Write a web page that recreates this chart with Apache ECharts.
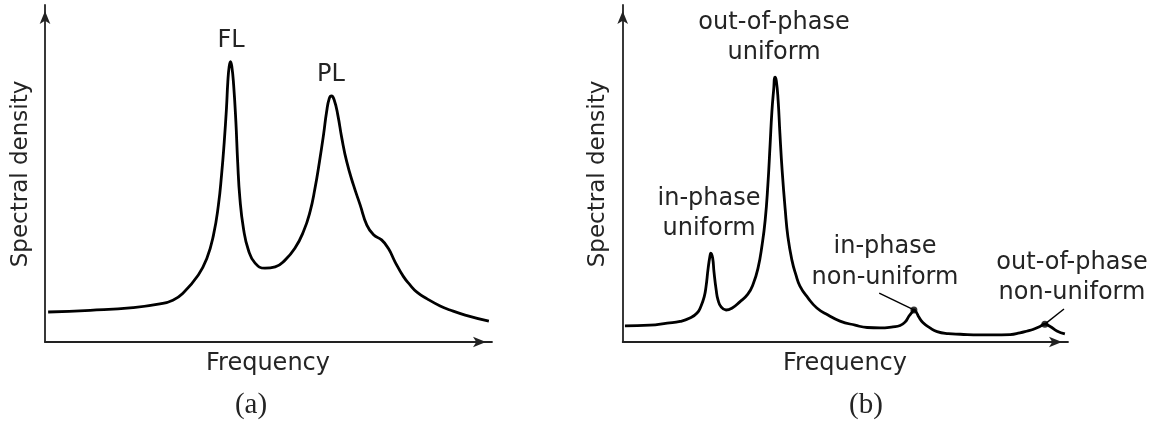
<!DOCTYPE html>
<html>
<head>
<meta charset="utf-8">
<script src="https://cdn.jsdelivr.net/npm/echarts@6/dist/echarts.min.js"></script>
<style>
  html, body { margin: 0; padding: 0; background: #fff; }
  #chart { width: 1161px; height: 433px; }
</style>
</head>
<body>
<div id="chart"></div>
<script>
// Panel (a): spectrum with FL and PL peaks (frequency and density in arbitrary units, 0-100)
const freqA = [0.7, 10.1, 19.7, 25.7, 28.6, 30.8, 34.3, 36.2, 37.7, 38.8, 39.5, 40.1, 40.6, 40.9, 41.2, 41.5, 41.8, 42.2, 42.7, 43.1, 43.6, 44.4, 45.5, 47.0, 49.2, 51.5, 53.7, 55.9, 57.8, 59.3, 60.4, 61.4, 62.3, 63.0, 63.6, 64.1, 64.7, 65.5, 66.4, 67.5, 69.0, 70.5, 72.0, 73.5, 75.3, 76.8, 78.3, 80.2, 81.7, 83.2, 85.5, 88.4, 90.6, 94.0, 99.3];
const densityA = [8.9, 9.4, 10.2, 11.3, 12.4, 14.4, 19.9, 24.8, 31.8, 40.7, 49.6, 59.4, 69.4, 77.2, 81.7, 83.2, 81.7, 76.3, 65.4, 53.5, 42.6, 33.7, 27.3, 23.4, 21.9, 22.3, 24.3, 27.8, 32.7, 38.7, 45.6, 53.5, 61.4, 68.3, 72.3, 73.0, 71.8, 67.4, 60.5, 53.5, 46.6, 40.7, 34.7, 31.8, 30.3, 27.8, 23.8, 19.4, 16.9, 14.8, 12.8, 10.7, 9.5, 8.0, 6.2];

// Panel (b): uniform and non-uniform modes
const freqB = [0.5, 6.1, 10.0, 12.9, 15.1, 16.7, 17.6, 18.3, 18.7, 19.2, 19.6, 19.8, 20.2, 20.5, 21.0, 21.4, 22.1, 23.2, 24.6, 26.3, 28.1, 29.3, 30.4, 31.3, 32.0, 32.6, 33.1, 33.5, 33.9, 34.2, 34.5, 34.9, 35.3, 35.8, 36.5, 37.1, 38.0, 38.9, 39.8, 41.6, 43.6, 46.1, 48.8, 52.2, 54.9, 57.8, 60.7, 62.3, 63.4, 64.3, 65.0, 65.4, 65.9, 66.5, 67.4, 69.0, 70.6, 73.1, 75.8, 80.2, 83.2, 87.0, 89.2, 91.0, 92.1, 93.7, 94.8, 96.0, 97.5, 99.3];
const densityB = [4.8, 5.0, 5.6, 6.1, 7.1, 8.6, 10.7, 13.4, 16.3, 22.0, 25.5, 26.4, 24.9, 20.8, 15.4, 12.5, 10.4, 9.5, 10.1, 11.9, 14.2, 17.2, 22.0, 28.8, 36.2, 46.6, 58.5, 68.3, 74.8, 78.6, 77.5, 71.8, 62.0, 51.0, 39.2, 31.2, 24.3, 19.9, 16.6, 13.1, 10.1, 8.0, 6.2, 5.0, 4.3, 4.2, 4.5, 4.9, 5.9, 7.7, 8.9, 9.5, 8.9, 7.4, 5.8, 4.2, 3.1, 2.5, 2.3, 2.1, 2.1, 2.2, 2.7, 3.3, 3.7, 4.6, 5.3, 4.6, 3.3, 2.4];

// Marked non-uniform modes and their leader lines to the labels
const markFreqB = [65.4, 94.8];
const markDensityB = [9.5, 5.3];
const leaderFreqB = [57.6, 99.1];
const leaderDensityB = [14.5, 9.8];

const labelsA = [['FL'], ['PL']];
const labelsB = [['out-of-phase', 'uniform'], ['in-phase', 'uniform'], ['in-phase', 'non-uniform'], ['out-of-phase', 'non-uniform']];
const axisNames = { x: 'Frequency', y: 'Spectral density' };
const panelTags = ['(a)', '(b)'];

const zip = (xs, ys) => xs.map((x, i) => [x, ys[i]]);

const chart = echarts.init(document.getElementById('chart'), null, { renderer: 'canvas' });

const axisLine = {
  show: true,
  onZero: false,
  symbol: ['none', 'arrow'],
  symbolSize: [8, 13],
  symbolOffset: [0, -6],
  lineStyle: { color: '#222', width: 1.8 }
};
function axis(gi) {
  return { type: 'value', gridIndex: gi, min: 0, max: 100, axisLine, axisTick: { show: false }, axisLabel: { show: false }, splitLine: { show: false } };
}

const curveStyle = { color: '#000', width: 2.8 };
const textFill = '#242424';
const sansFont = '24px "DejaVu Sans"';
const serifFont = '29px "Liberation Serif"';

function label(text, x, y, font) {
  return { type: 'text', x, y, style: { text, fill: textFill, font: font || sansFont, textAlign: 'center', textVerticalAlign: 'middle' } };
}
function stacked(lines, x, y, gap) {
  return lines.map((t, i) => label(t, x, y + i * gap));
}
function vertical(text, x, y) {
  return { type: 'text', x, y, rotation: Math.PI / 2, style: { text, fill: textFill, font: '23px "DejaVu Sans"', textAlign: 'center', textVerticalAlign: 'middle' } };
}

const graphics = [
  // axis titles
  label(axisNames.x, 268, 364),
  label(axisNames.x, 845, 364),
  vertical(axisNames.y, 21, 174),
  vertical(axisNames.y, 598, 174),
  // panel tags
  label(panelTags[0], 251, 405, serifFont),
  label(panelTags[1], 866, 405, serifFont),
  // peak labels
  ...stacked(labelsA[0], 231, 41, 0),
  ...stacked(labelsA[1], 331, 75, 0),
  ...stacked(labelsB[0], 774, 23, 30),
  ...stacked(labelsB[1], 709, 199, 30),
  ...stacked(labelsB[2], 885, 247, 31),
  ...stacked(labelsB[3], 1072, 263, 30)
];

const curve = (gi, data) => ({
  type: 'line', xAxisIndex: gi, yAxisIndex: gi, data, showSymbol: false,
  smooth: 0.5, lineStyle: curveStyle
});

chart.setOption({
  animation: false,
  backgroundColor: '#fff',
  grid: [
    { left: 45, top: 5, width: 447, height: 337 },
    { left: 622.7, top: 5, width: 445.3, height: 337 }
  ],
  xAxis: [axis(0), axis(1)],
  yAxis: [axis(0), axis(1)],
  series: [
    curve(0, zip(freqA, densityA)),
    curve(1, zip(freqB, densityB)),
    { type: 'line', xAxisIndex: 1, yAxisIndex: 1, data: [[leaderFreqB[0], leaderDensityB[0]], [markFreqB[0], markDensityB[0]]], showSymbol: false, lineStyle: { color: '#000', width: 1.4 } },
    { type: 'line', xAxisIndex: 1, yAxisIndex: 1, data: [[leaderFreqB[1], leaderDensityB[1]], [markFreqB[1], markDensityB[1]]], showSymbol: false, lineStyle: { color: '#000', width: 1.4 } },
    { type: 'scatter', xAxisIndex: 1, yAxisIndex: 1, data: zip(markFreqB, markDensityB), symbolSize: 7, itemStyle: { color: '#000' } }
  ],
  graphic: graphics
});
</script>
</body>
</html>
